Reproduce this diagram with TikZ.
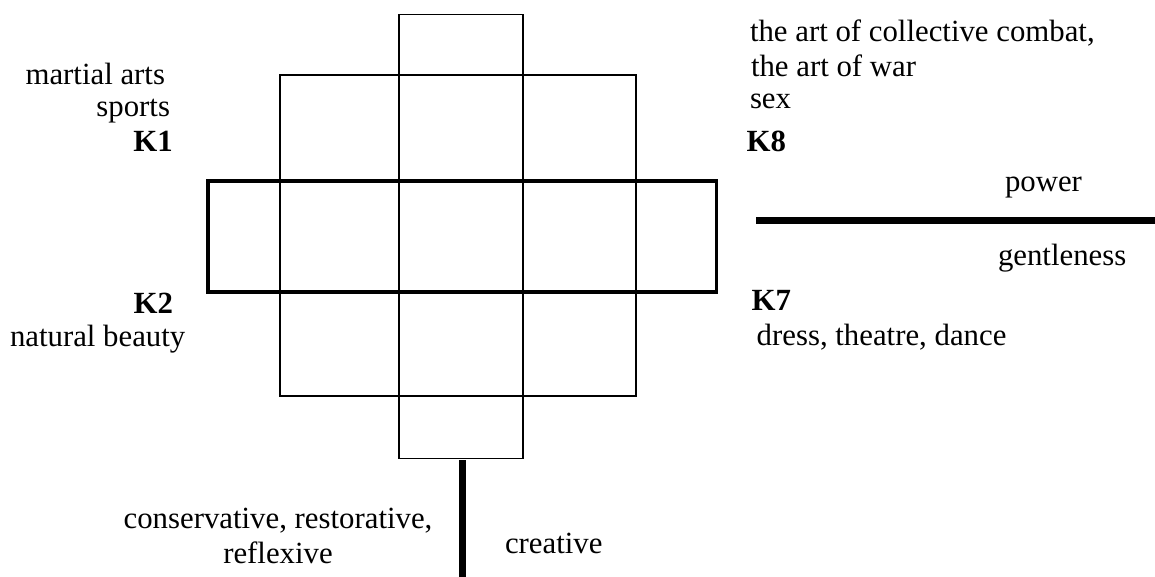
\documentclass[tikz,border=0pt]{standalone}
\usepackage{fontspec}
\setmainfont{Liberation Serif}
\begin{document}
\begin{tikzpicture}[x=1pt,y=-1pt,
  thin line/.style={line width=1.3pt,line join=miter},
  thick box/.style={line width=3.6pt,line join=miter},
  axis line/.style={line width=7pt},
  lbl/.style={inner sep=0pt,outer sep=0pt,font=\fontsize{30.8}{35.4}\selectfont},
  klbl/.style={lbl,font=\fontsize{30.8}{35.4}\selectfont\bfseries}]
\useasboundingbox (0,0) rectangle (1155,577);
% grid
\draw[thin line] (399,14.7) rectangle (523,458.5);
\draw[thin line] (280,75) rectangle (636,396);
\draw[thin line] (399,75) -- (523,75);
\draw[thin line] (399,396) -- (523,396);
\draw[thick box] (208,181) rectangle (716.5,292);
% axes
\coordinate (vtop) at (462,460);
\coordinate (vbot) at (462,577);
\coordinate (hleft) at (756,221);
\coordinate (hright) at (1155,221);
\draw[axis line] (vtop) -- (vbot);
\draw[axis line] (hleft) -- (hright);
% left labels
\node[lbl,anchor=base east] (ma) at (165,85) {martial arts};
\node[lbl,anchor=base east] (sp) at (170,116.7) {sports};
\node[klbl,anchor=base east] (k1) at (172.7,151.7) {K1};
\node[klbl,anchor=base east] (k2) at (173,313) {K2};
\node[lbl,anchor=base west] (nb) at (10,346.7) {natural beauty};
% right labels
\node[lbl,anchor=base west] (cc) at (750,41.7) {the art of collective combat,};
\node[lbl,anchor=base west] (aw) at (751,76.7) {the art of war};
\node[lbl,anchor=base west] (sx) at (750,108.3) {sex};
\node[klbl,anchor=base west] (k8) at (746.7,151.7) {K8};
\node[lbl,anchor=base west] (pw) at (1005,191.7) {power};
\node[lbl,anchor=base west] (gt) at (998,265) {gentleness};
\node[klbl,anchor=base west] (k7) at (751.7,310) {K7};
\node[lbl,anchor=base west] (dr) at (756.7,345) {dress, theatre, dance};
% bottom labels
\node[lbl,anchor=base] (cons) at (278,528) {conservative, restorative,};
\node[lbl,anchor=base] (refl) at (278,563) {reflexive};
\node[lbl,anchor=base west] (crea) at (505,553) {creative};
\end{tikzpicture}
\end{document}
